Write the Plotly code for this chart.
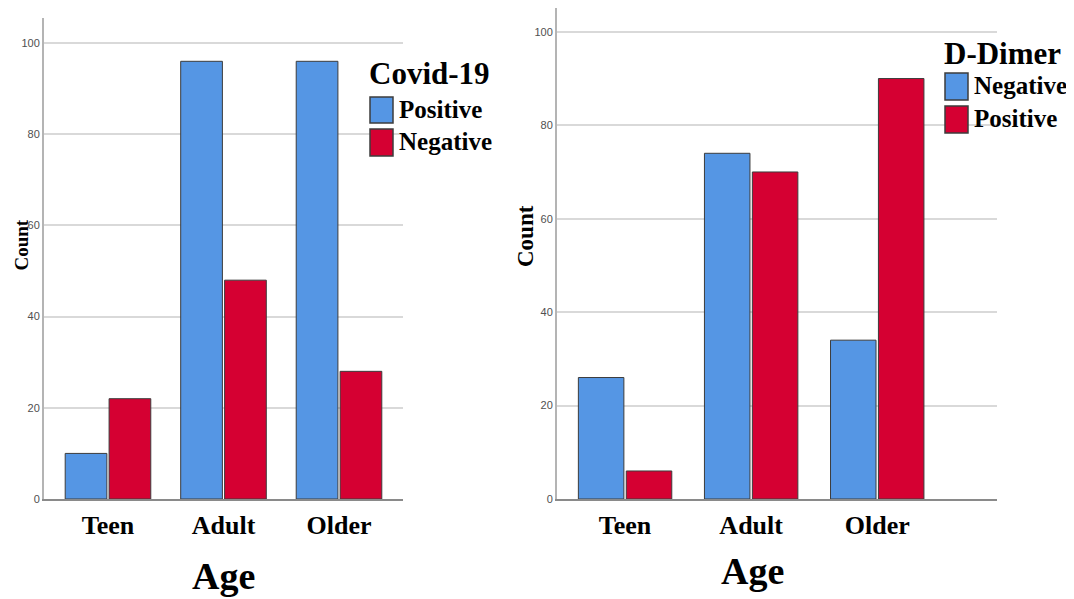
import plotly.graph_objects as go

# page body has an 8px margin: the figure is drawn from (8, 8)
OFF = 8
W, H = 1074 - OFF, 599 - OFF

# ---- data ----
age_groups = ["Teen", "Adult", "Older"]
covid_positive = [10, 96, 96]
covid_negative = [22, 48, 28]
ddimer_negative = [26, 74, 34]
ddimer_positive = [6, 70, 90]
y_ticks = [0, 20, 40, 60, 80, 100]

BLUE = "#5596E4"
RED = "#D50032"
EDGE = "#3c3c3c"
SERIF = "Liberation Serif, Times New Roman, serif"


def px(x):
    return (x - OFF) / W


def py(y):
    return 1 - (y - OFF) / H


fig = go.Figure()

fig.add_trace(go.Bar(x=age_groups, y=covid_positive, name="Positive", marker=dict(color=BLUE, line=dict(color=EDGE, width=1)),
                     xaxis="x", yaxis="y", showlegend=False))
fig.add_trace(go.Bar(x=age_groups, y=covid_negative, name="Negative", marker=dict(color=RED, line=dict(color=EDGE, width=1)),
                     xaxis="x", yaxis="y", showlegend=False))
fig.add_trace(go.Bar(x=age_groups, y=ddimer_negative, name="Negative", marker=dict(color=BLUE, line=dict(color=EDGE, width=1)),
                     xaxis="x2", yaxis="y2", showlegend=False))
fig.add_trace(go.Bar(x=age_groups, y=ddimer_positive, name="Positive", marker=dict(color=RED, line=dict(color=EDGE, width=1)),
                     xaxis="x2", yaxis="y2", showlegend=False))

xcommon = dict(type="category", showgrid=False, zeroline=False, showline=True, linecolor="#8a8a8a", linewidth=2,
               automargin=False, ticks="",
               tickfont=dict(family=SERIF, size=26, color="black", weight="bold"), ticklabelstandoff=2)
ycommon = dict(tickvals=y_ticks, showgrid=True, gridcolor="#d9d9d9", gridwidth=2, zeroline=False, showline=True,
               linecolor="#b4b4b4", linewidth=2, ticks="", automargin=False,
               tickfont=dict(family="Liberation Sans Narrow, Arial Narrow, sans-serif", size=11, color="#505050"))

fig.update_layout(
    template="none",
    width=W, height=H,
    margin=dict(l=0, r=0, t=0, b=0, pad=0),
    paper_bgcolor="white", plot_bgcolor="white",
    barmode="group", bargap=0.24, bargroupgap=0.05,
    xaxis=dict(domain=[px(44), px(403)], range=[-0.554, 2.554], anchor="y", **xcommon),
    yaxis=dict(domain=[py(499), py(18)], range=[0, 105.5], anchor="x", **ycommon),
    xaxis2=dict(domain=[px(557), px(997)], range=[-0.54, 2.95], anchor="y2", **xcommon),
    yaxis2=dict(domain=[py(499), py(8)], range=[0, 105.1], anchor="x2", **ycommon),
)

annotations = []
shapes = []


def text(x, y, s, size, angle=0, xanchor="center"):
    annotations.append(dict(x=px(x), y=py(y), xref="paper", yref="paper", text=s, showarrow=False,
                            textangle=angle, xanchor=xanchor, yanchor="middle",
                            font=dict(family=SERIF, size=size, color="black")))


# axis titles
text(OFF, 245, "<b>Count</b>", 19, angle=-90, xanchor="left")
text(525, 236, "<b>Count</b>", 23, angle=-90)
text(223, 576, "<b>Age</b>", 38)
text(752, 571, "<b>Age</b>", 38)


def legend(x0, title_y, title, items):
    text(x0 - 3, title_y, "<b>" + title + "</b>", 31, xanchor="left")
    for (label, color, y0, y1) in items:
        shapes.append(dict(type="rect", xref="paper", yref="paper", x0=px(x0), x1=px(x0 + 23), y0=py(y1), y1=py(y0),
                           fillcolor=color, line=dict(color=EDGE, width=1.5)))
        text(x0 + 27, (y0 + y1) / 2 - 1, "<b>" + label + "</b>", 25, xanchor="left")


legend(370, 73, "Covid-19", [("Positive", BLUE, 97, 123), ("Negative", RED, 129, 156)])
legend(945, 53, "D-Dimer", [("Negative", BLUE, 73, 100), ("Positive", RED, 106, 133)])

fig.update_layout(annotations=annotations, shapes=shapes)

fig.write_html("out.html")
